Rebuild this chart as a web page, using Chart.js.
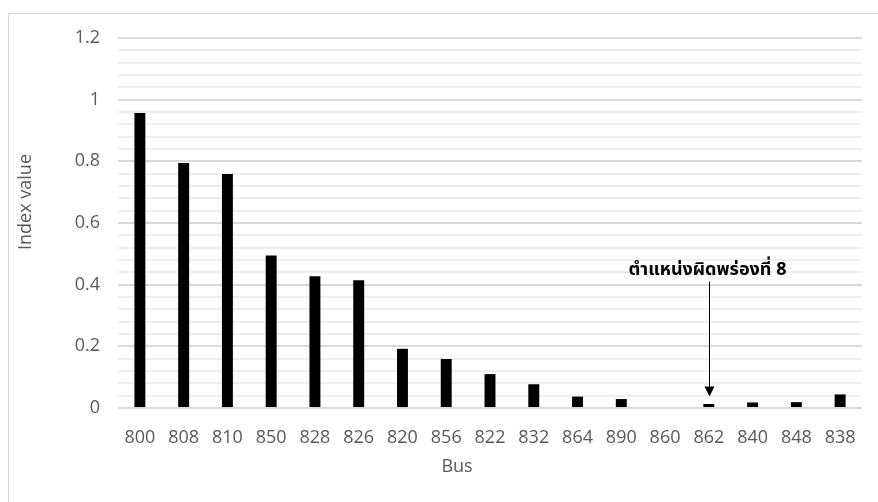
<!DOCTYPE html>
<html>
<head>
<meta charset="utf-8">
<script src="https://cdn.jsdelivr.net/npm/chart.js@4/dist/chart.umd.min.js"></script>
<style>
  html, body { margin: 0; padding: 0; background: #ffffff; }
  #wrap { width: 878px; height: 502px; position: relative; }
</style>
</head>
<body>
<div id="wrap"><canvas id="chart"></canvas></div>
<script>
// Bus numbers along the horizontal axis
const buses = ['800', '808', '810', '850', '828', '826', '820', '856', '822', '832', '864', '890', '860', '862', '840', '848', '838'];
// Index value for each bus
const indexValues = [0.957, 0.795, 0.759, 0.495, 0.427, 0.414, 0.192, 0.159, 0.110, 0.077, 0.037, 0.029, 0.0, 0.013, 0.018, 0.019, 0.044];
// Labelled ticks on the value axis (minor lines every 0.04 in between)
const majorTicks = [0, 0.2, 0.4, 0.6, 0.8, 1, 1.2];

const xTitle = 'Bus';
const yTitle = 'Index value';
const faultLabel = 'ตำแหน่งผิดพร่องที่ 8';
const faultBus = '862';

const axisFont = '"Open Sans", "DejaVu Sans", sans-serif';
const thaiFont = '"Noto Sans Thai", "Noto Sans", "DejaVu Sans", sans-serif';

function isMajor(v) {
  return majorTicks.some(t => Math.abs(t - v) < 1e-6);
}

// Outer frame of the chart box
const framePlugin = {
  id: 'frame',
  beforeDraw(chart) {
    const ctx = chart.ctx;
    ctx.save();
    ctx.strokeStyle = '#d9d9d9';
    ctx.lineWidth = 1;
    ctx.beginPath();
    ctx.moveTo(8.5, chart.height);
    ctx.lineTo(8.5, 13.5);
    ctx.lineTo(chart.width, 13.5);
    ctx.stroke();
    ctx.restore();
  }
};

// Axis titles, placed like the office-style chart layout
const axisTitlePlugin = {
  id: 'axisTitles',
  afterDraw(chart, args, opts) {
    const ctx = chart.ctx;
    ctx.save();
    ctx.fillStyle = '#595959';
    ctx.font = '18px ' + axisFont;
    ctx.textAlign = 'center';
    ctx.textBaseline = 'middle';
    ctx.fillText(opts.x.text, opts.x.cx, opts.x.cy);
    ctx.translate(opts.y.cx, opts.y.cy);
    ctx.rotate(-Math.PI / 2);
    ctx.fillText(opts.y.text, 0, 0);
    ctx.restore();
  }
};

// Callout with an arrow pointing at the fault bus
const calloutPlugin = {
  id: 'callout',
  afterDatasetsDraw(chart, args, opts) {
    const xs = chart.scales.x, ys = chart.scales.y;
    const idx = buses.indexOf(opts.bus);
    const x = Math.round(xs.getPixelForValue(idx)) + 0.5;
    const yText = ys.getPixelForValue(opts.textAt);
    const yStart = ys.getPixelForValue(opts.arrowFrom);
    const yTip = ys.getPixelForValue(opts.arrowTo);
    const ctx = chart.ctx;
    ctx.save();
    ctx.fillStyle = '#000000';
    ctx.font = 'bold 18px ' + thaiFont;
    ctx.textAlign = 'center';
    ctx.textBaseline = 'middle';
    ctx.fillText(opts.text, x - 2, yText);
    ctx.strokeStyle = '#000000';
    ctx.lineWidth = 1;
    ctx.beginPath();
    ctx.moveTo(x, yStart);
    ctx.lineTo(x, yTip - 8);
    ctx.stroke();
    ctx.beginPath();
    ctx.moveTo(x - 5, yTip - 10);
    ctx.lineTo(x + 5, yTip - 10);
    ctx.lineTo(x, yTip);
    ctx.closePath();
    ctx.fill();
    ctx.restore();
  }
};

new Chart(document.getElementById('chart'), {
  type: 'bar',
  data: {
    labels: buses,
    datasets: [{
      label: yTitle,
      data: indexValues,
      backgroundColor: '#000000',
      borderWidth: 0,
      categoryPercentage: 1.0,
      barPercentage: 0.25
    }]
  },
  options: {
    responsive: true,
    maintainAspectRatio: false,
    animation: false,
    layout: { padding: { left: 8, top: 38, right: 16, bottom: 0 } },
    plugins: {
      legend: { display: false },
      tooltip: { enabled: false },
      callout: { text: faultLabel, bus: faultBus, textAt: 0.444, arrowFrom: 0.41, arrowTo: 0.037 },
      axisTitles: {
        x: { text: xTitle, cx: 457, cy: 467 },
        y: { text: yTitle, cx: 26, cy: 202 }
      }
    },
    scales: {
      x: {
        grid: { display: false, drawTicks: false },
        border: { display: false },
        ticks: {
          color: '#595959',
          font: { family: axisFont, size: 18 },
          padding: 19,
          autoSkip: false,
          maxRotation: 0
        },
        afterFit(scale) { scale.height = 94; }
      },
      y: {
        min: 0,
        max: 1.2,
        grid: {
          drawTicks: false,
          color: ctx => isMajor(ctx.tick.value) ? '#d9d9d9' : '#efefef',
          lineWidth: 2
        },
        border: { display: false },
        ticks: {
          stepSize: 0.04,
          autoSkip: false,
          color: '#595959',
          font: { family: axisFont, size: 18 },
          padding: 18,
          callback: v => isMajor(v) ? String(Math.round(v * 10) / 10) : ''
        },
        afterFit(scale) { scale.width = 110; }
      }
    }
  },
  plugins: [framePlugin, axisTitlePlugin, calloutPlugin]
});
</script>
</body>
</html>
